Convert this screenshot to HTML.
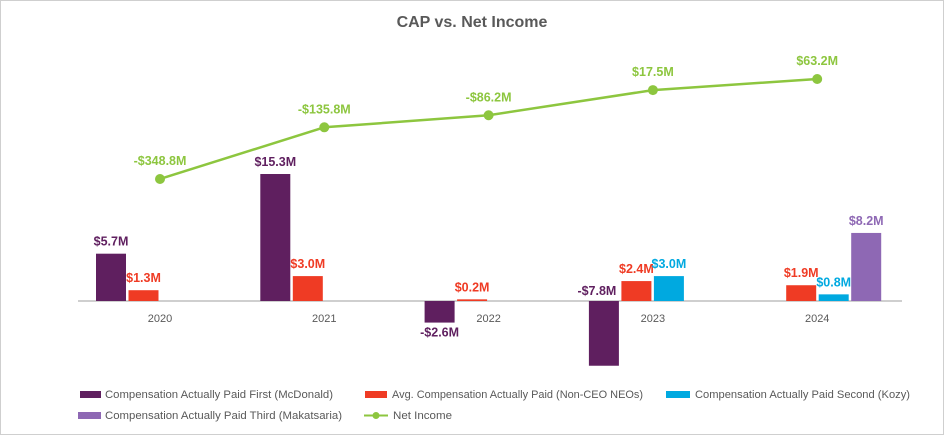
<!DOCTYPE html>
<html><head><meta charset="utf-8"><style>
html,body{margin:0;padding:0;background:#fff;}
svg{display:block;font-family:"Liberation Sans",Arial,sans-serif;}
</style></head><body>
<svg id="chart" width="944" height="435">
<rect x="0.5" y="0.5" width="943" height="434" fill="#fff" stroke="#cfcfcf"/>
<text x="472" y="27" text-anchor="middle" font-size="16" font-weight="bold" fill="#595959">CAP vs. Net Income</text>
<line x1="78" y1="301" x2="902" y2="301" stroke="#bfbfbf" stroke-width="1.5"/>
<g id="bars"></g><g id="line"></g><g id="labels"></g>
<g>
<g><rect x="80" y="391" width="21" height="7" fill="#5f1f5f"/><text x="105" y="398" font-size="11" fill="#595959" textLength="228" lengthAdjust="spacingAndGlyphs">Compensation Actually Paid First (McDonald)</text></g>
<g><rect x="365" y="391" width="22" height="7" fill="#ef3b24"/><text x="392" y="398" font-size="11" fill="#595959" textLength="251" lengthAdjust="spacingAndGlyphs">Avg. Compensation Actually Paid (Non-CEO NEOs)</text></g>
<g><rect x="666" y="391" width="24" height="7" fill="#00a9e0"/><text x="695" y="398" font-size="11" fill="#595959" textLength="215" lengthAdjust="spacingAndGlyphs">Compensation Actually Paid Second (Kozy)</text></g>
<g><rect x="78" y="412" width="23" height="7" fill="#8e68b4"/><text x="105" y="419" font-size="11" fill="#595959" textLength="237" lengthAdjust="spacingAndGlyphs">Compensation Actually Paid Third (Makatsaria)</text></g>
<g><line x1="364" y1="415.5" x2="388" y2="415.5" stroke="#8dc63f" stroke-width="2"/><circle cx="376" cy="415.5" r="3.5" fill="#8dc63f"/><text x="393" y="419" font-size="11" fill="#595959" textLength="59" lengthAdjust="spacingAndGlyphs">Net Income</text></g>
</g>
</svg>
<script>
const categories = ["2020","2021","2022","2023","2024"];
const mcdonald = [5.7, 15.3, -2.6, -7.8, null];
const nonCeo = [1.3, 3.0, 0.2, 2.4, 1.9];
const kozy = [null, null, null, 3.0, 0.8];
const makatsaria = [null, null, null, null, 8.2];
const netIncome = [-348.8, -135.8, -86.2, 17.5, 63.2];

const NS = "http://www.w3.org/2000/svg";
const baseY = 301;
function xCenter(i){ return 160 + i*164.3; }
function yBar(v){ return baseY - v*8.3; }
function yLine(v){ return 79 - (v-63.2)*0.2427; }
function mk(tag, attrs, parent){
  const e = document.createElementNS(NS, tag);
  for (const k in attrs) e.setAttribute(k, attrs[k]);
  parent.appendChild(e); return e;
}
const bars = document.getElementById('bars');
const labels = document.getElementById('labels');
const lineG = document.getElementById('line');
const series = [
  {data: mcdonald, color: "#5f1f5f", name: "mcdonald"},
  {data: nonCeo, color: "#ef3b24", name: "non-ceo"},
  {data: kozy, color: "#00a9e0", name: "kozy"},
  {data: makatsaria, color: "#8e68b4", name: "makatsaria"}
];
function fmt(v){ return (v<0?"-$":"$") + Math.abs(v).toFixed(1) + "M"; }
categories.forEach((c,i)=>{
  const cx = xCenter(i);
  const t = mk('text', {x: cx, y: 322, 'text-anchor':'middle', 'font-size':11, fill:'#595959'}, labels);
  t.textContent = c;
  
  
  const active = series.filter(s => s.data[i] !== null);
  let slotStart = cx - 64;
  if (active.length === 3 && series[0].data[i] === null) slotStart = cx - 31;
  active.forEach((s,k)=>{
    const v = s.data[i];
    const x = slotStart + k*32.5;
    const y0 = Math.min(yBar(v), baseY), h = Math.max(Math.abs(v*8.3), 1.5);
    const r = mk('rect', {x: x, y: v<0?baseY:y0, width: 30, height: h, fill: s.color}, bars);
    
    
    let ly, lx = x+15;
    if (v >= 0) ly = Math.min(yBar(v), baseY-1.5) - 8;
    else if (baseY + h + 14 > 360) { ly = baseY - 6; lx = x + 8; }
    else ly = baseY + h + 14;
    const lt = mk('text', {x: lx, y: ly, 'text-anchor':'middle', 'font-size':12.5, 'font-weight':'bold', fill: s.color}, labels);
    lt.textContent = fmt(v);
    
    
  });
});
const pts = netIncome.map((v,i)=> xCenter(i)+","+yLine(v)).join(" ");
const pl = mk('polyline', {points: pts, fill:'none', stroke:'#8dc63f', 'stroke-width':2.5}, lineG);


netIncome.forEach((v,i)=>{
  const p = mk('circle', {cx: xCenter(i), cy: yLine(v), r: 5, fill:'#8dc63f'}, lineG);
  
  
  const t = mk('text', {x: xCenter(i), y: yLine(v) - 14, 'text-anchor':'middle', 'font-size':12.5, 'font-weight':'bold', fill:'#8dc63f'}, labels);
  t.textContent = fmt(v);
  
  
});
</script>
</body></html>
